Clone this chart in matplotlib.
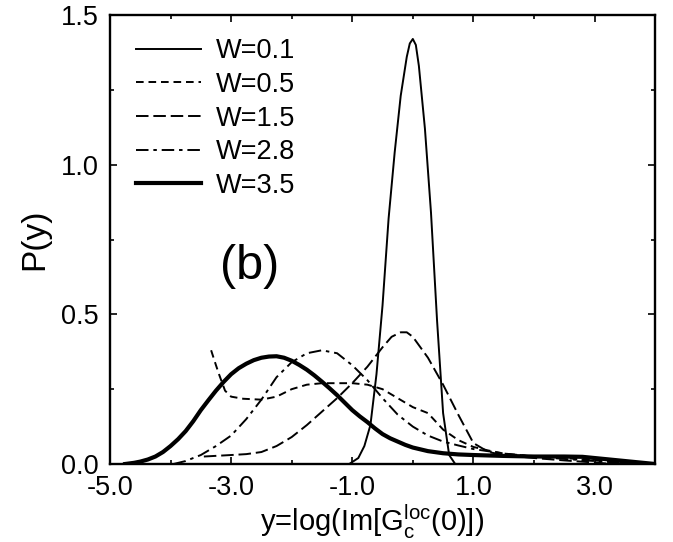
import numpy as np
import matplotlib
matplotlib.use("Agg")
import matplotlib.pyplot as plt
from matplotlib.ticker import MultipleLocator, FormatStrFormatter

plt.rcParams['font.family'] = ['Liberation Sans', 'DejaVu Sans']
plt.rcParams['mathtext.fontset'] = 'custom'
plt.rcParams['mathtext.rm'] = 'Liberation Sans'
plt.rcParams['lines.scale_dashes'] = False

# curves
x_w01 = [-1.05, -0.9, -0.8, -0.7, -0.6, -0.5, -0.4, -0.3, -0.2, -0.1, -0.05, 0.0, 0.05,
         0.1, 0.2, 0.3, 0.4, 0.5, 0.6, 0.7]
p_w01 = [0.0, 0.02, 0.06, 0.13, 0.30, 0.53, 0.82, 1.04, 1.23, 1.36, 1.405, 1.42, 1.40,
         1.33, 1.12, 0.84, 0.48, 0.17, 0.03, 0.0]

x_w05 = [-3.33, -3.25, -3.2, -3.1, -3.0, -2.8, -2.5, -2.25, -2.0, -1.75, -1.5, -1.25, -1.0,
         -0.75, -0.5, -0.25, 0.0, 0.25, 0.5, 0.75, 1.0, 1.25, 1.5, 2.0, 2.5, 3.0, 3.5, 3.8]
p_w05 = [0.38, 0.33, 0.30, 0.245, 0.225, 0.218, 0.215, 0.225, 0.25, 0.265, 0.27, 0.27, 0.27,
         0.265, 0.25, 0.22, 0.19, 0.17, 0.115, 0.08, 0.057, 0.045, 0.035, 0.025, 0.02, 0.012, 0.005, 0.0]

x_w15 = [-3.45, -3.0, -2.75, -2.5, -2.25, -2.0, -1.75, -1.5, -1.25, -1.0, -0.75, -0.5,
         -0.35, -0.2, -0.1, 0.0, 0.25, 0.5, 0.75, 1.0, 1.25, 1.5, 2.0, 2.5, 3.0, 3.3]
p_w15 = [0.025, 0.03, 0.033, 0.04, 0.06, 0.09, 0.13, 0.175, 0.22, 0.27, 0.325, 0.39,
         0.425, 0.44, 0.44, 0.425, 0.355, 0.265, 0.165, 0.07, 0.04, 0.03, 0.02, 0.012, 0.005, 0.0]

x_w28 = [-3.95, -3.75, -3.5, -3.25, -3.0, -2.75, -2.5, -2.25, -2.0, -1.75, -1.5, -1.25, -1.0,
         -0.75, -0.5, -0.25, 0.0, 0.25, 0.5, 0.75, 1.0, 1.5, 2.0, 2.5, 3.0, 3.5, 3.7]
p_w28 = [0.0, 0.01, 0.03, 0.06, 0.095, 0.15, 0.215, 0.29, 0.34, 0.37, 0.38, 0.37, 0.33,
         0.28, 0.22, 0.165, 0.125, 0.095, 0.075, 0.062, 0.05, 0.035, 0.025, 0.017, 0.01, 0.003, 0.0]

x_w35 = [-4.75, -4.6, -4.5, -4.375, -4.25, -4.125, -4.0, -3.875, -3.75, -3.625, -3.5, -3.375,
         -3.25, -3.125, -3.0, -2.875, -2.75, -2.625, -2.5, -2.375, -2.25, -2.125, -2.0, -1.875,
         -1.75, -1.625, -1.5, -1.375, -1.25, -1.125, -1.0, -0.875, -0.75, -0.625, -0.5, -0.375,
         -0.25, -0.125, 0.0, 0.25, 0.5, 0.75, 1.0, 1.5, 2.0, 2.5, 2.8, 3.0, 3.25, 3.5, 3.75, 4.0]
p_w35 = [0.0, 0.004, 0.008, 0.015, 0.025, 0.04, 0.06, 0.083, 0.11, 0.143, 0.18, 0.213,
         0.245, 0.274, 0.30, 0.32, 0.335, 0.347, 0.355, 0.359, 0.36, 0.355, 0.345, 0.331,
         0.315, 0.296, 0.275, 0.253, 0.23, 0.205, 0.18, 0.159, 0.14, 0.119, 0.10, 0.086,
         0.075, 0.064, 0.055, 0.043, 0.036, 0.032, 0.03, 0.027, 0.025, 0.025, 0.024, 0.02, 0.015, 0.01, 0.005, 0.0]

labels = ["W=0.1", "W=0.5", "W=1.5", "W=2.8", "W=3.5"]

fig = plt.figure(figsize=(6.73, 5.42), dpi=100)
ax = fig.add_axes([0.1634, 0.1439, 0.81, 0.8284])

ax.plot(x_w01, p_w01, color='black', lw=1.4, label=labels[0])
ax.plot(x_w05, p_w05, color='black', lw=1.4, ls=(0, (5.5, 3.5)), label=labels[1])
ax.plot(x_w15, p_w15, color='black', lw=1.4, ls=(0, (9, 3.5)), label=labels[2])
ax.plot(x_w28, p_w28, color='black', lw=1.4, ls=(0, (9, 3.5, 2.5, 3.5)), label=labels[3])
ax.plot(x_w35, p_w35, color='black', lw=3.0, label=labels[4])

ax.set_xlim(-5, 4)
ax.set_ylim(0, 1.5)
ax.xaxis.set_minor_locator(MultipleLocator(1))
ax.set_xticks([-5, -3, -1, 1, 3])
ax.yaxis.set_major_locator(MultipleLocator(0.5))
ax.yaxis.set_minor_locator(MultipleLocator(0.25))
ax.xaxis.set_major_formatter(FormatStrFormatter('%.1f'))
ax.yaxis.set_major_formatter(FormatStrFormatter('%.1f'))
ax.tick_params(which='both', direction='in', top=True, right=True, labelsize=19.5, width=1.2)
ax.tick_params(which='major', length=5, pad=8)
ax.tick_params(which='minor', length=3)
for s in ax.spines.values():
    s.set_linewidth(1.7)

ax.set_xlabel(r"y=log(Im[G$_{\mathrm{c}}^{\mathrm{loc}}$(0)])", fontsize=21, labelpad=1)
ax.xaxis.set_label_coords(0.48, -0.085)
ax.set_ylabel("P(y)", fontsize=24, labelpad=8)

ax.text(-2.69, 0.66, "(b)", fontsize=35, ha='center', va='center')

ax.legend(loc='upper left', bbox_to_anchor=(0.048, 0.948), frameon=False, fontsize=19.5,
          handlelength=2.4, handletextpad=0.55, labelspacing=0.28, borderpad=0, borderaxespad=0)

fig.savefig("out.png", dpi=100)
